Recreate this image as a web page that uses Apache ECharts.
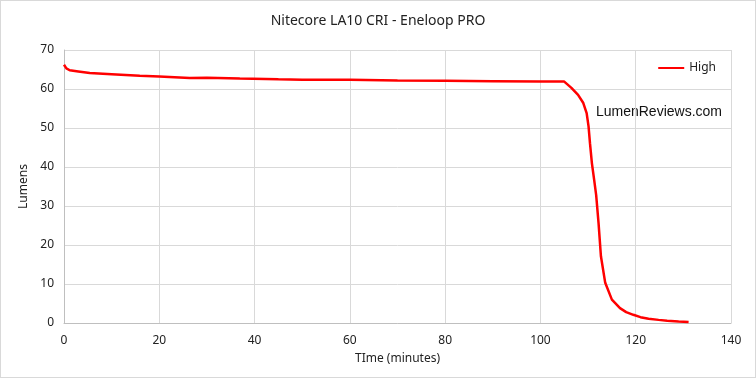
<!DOCTYPE html>
<html>
<head>
<meta charset="utf-8">
<script src="https://cdn.jsdelivr.net/npm/echarts@6/dist/echarts.min.js"></script>
<style>
  html, body { margin: 0; padding: 0; background: #fff; }
  #chart { width: 756px; height: 378px; box-sizing: border-box; border: 1px solid #d9d9d9; }
</style>
</head>
<body>
<div id="chart"></div>
<script>
// runtime (minutes / lumens)
var times = [0, 0.5, 1.2, 3, 5.4, 10, 15.9, 20, 26.4, 26.8, 30, 36.9, 45, 50, 60, 70, 80, 90, 100, 105.0,
  106.5, 107.9, 109.0, 109.7, 110.1, 110.4, 110.8, 111.3, 111.7, 112.2, 112.7, 113.6, 115.0, 116.7, 118, 119.5,
  121, 122.7, 124.8, 126.6, 129, 131.1]
var lumens = [66.2, 65.3, 64.8, 64.5, 64.1, 63.8, 63.4, 63.2, 62.8, 63.1, 62.9, 62.7, 62.5, 62.4, 62.4, 62.2, 62.1, 62.0, 61.9, 61.9,
  60.3, 58.5, 56.4, 53.8, 50.4, 46.1, 41.0, 36.5, 32.8, 25.6, 17.1, 10.3, 6.0, 3.8, 2.8, 2.1,
  1.5, 1.1, 0.8, 0.6, 0.4, 0.25]
var xTicks = [0, 140, 20]
var yTicks = [0, 70, 10]

var points = times.map(function (t, i) { return [t, lumens[i]] })

var chart = echarts.init(document.getElementById('chart'))
var font = 'Noto Sans'
option = {
  animation: false,
  title: {
    text: 'Nitecore LA10 CRI - Eneloop PRO',
    left: 'center',
    top: 8,
    textStyle: { fontFamily: font, fontSize: 14, fontWeight: 'normal', color: '#222' }
  },
  legend: {
    right: 34,
    top: 56,
    itemWidth: 26,
    itemHeight: 10,
    icon: 'path://M0,4 L26,4 L26,6 L0,6 Z',
    data: ['High'],
    textStyle: { fontFamily: font, fontSize: 12, color: '#222' }
  },
  grid: { left: 63, right: 24, top: 49, bottom: 54 },
  xAxis: {
    type: 'value',
    min: xTicks[0],
    max: xTicks[1],
    interval: xTicks[2],
    name: 'TIme (minutes)',
    nameLocation: 'middle',
    nameGap: 30,
    nameTextStyle: { fontFamily: font, fontSize: 12, color: '#222' },
    axisLine: { lineStyle: { color: '#bfbfbf' } },
    axisTick: { show: false },
    axisLabel: { fontFamily: font, fontSize: 12, color: '#222', margin: 12 },
    splitLine: { show: true, lineStyle: { color: '#d9d9d9' } }
  },
  yAxis: {
    type: 'value',
    min: yTicks[0],
    max: yTicks[1],
    interval: yTicks[2],
    name: 'Lumens',
    nameLocation: 'middle',
    nameGap: 34,
    nameTextStyle: { fontFamily: font, fontSize: 12, color: '#222' },
    axisLine: { show: true, lineStyle: { color: '#bfbfbf' } },
    axisTick: { show: false },
    axisLabel: { fontFamily: font, fontSize: 12, color: '#222', margin: 10 },
    splitLine: { show: true, lineStyle: { color: '#d9d9d9' } }
  },
  graphic: [{
    type: 'text',
    right: 33,
    top: 104,
    style: { text: 'LumenReviews.com', font: '14px "Liberation Sans"', fill: '#111' }
  }],
  series: [{
    name: 'High',
    type: 'line',
    data: points,
    showSymbol: false,
    lineStyle: { color: '#ff0000', width: 2.5 },
    itemStyle: { color: '#ff0000' }
  }]
}
chart.setOption(option)
</script>
</body>
</html>
